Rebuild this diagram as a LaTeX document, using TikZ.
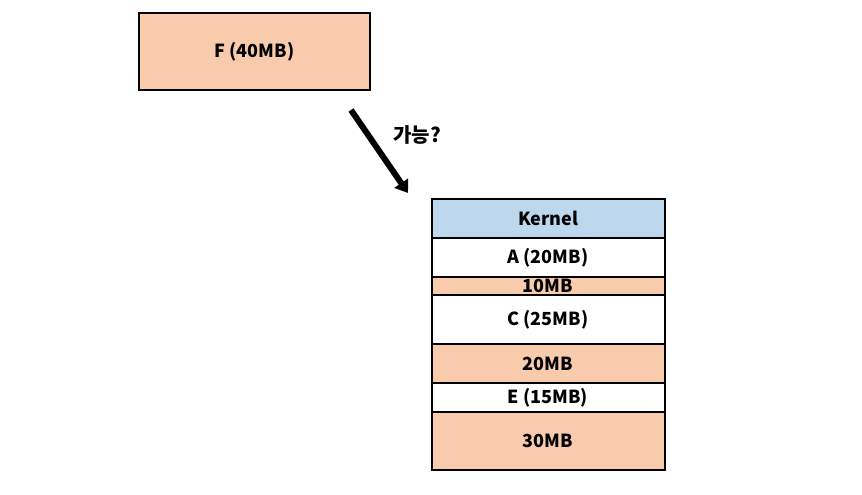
\documentclass[tikz,border=0pt]{standalone}
\usepackage{fontspec}
\setmainfont{Noto Sans CJK KR}
\usepackage{xcolor}
\usepackage{tikz}
\usetikzlibrary{positioning,arrows.meta}

\definecolor{hole}{HTML}{F8CBAD}
\definecolor{kern}{HTML}{BDD7EE}

\begin{document}
\begin{tikzpicture}[x=0.75pt, y=-0.75pt, >=Triangle, thick,
  blk/.style={draw, line width=1.5pt, minimum width=233*0.75pt, inner sep=0pt, outer sep=0pt, font=\bfseries\fontsize{13.5}{15}\selectfont}]

\useasboundingbox (0,0) rectangle (862,495);

% 
\node[blk, fill=hole, minimum width=231*0.75pt, minimum height=77*0.75pt] (f) at (254.5, 51.5) {F (40MB)};

% 
\node[blk, fill=kern, minimum height=39*0.75pt] (kernel) at (548, 218.5) {Kernel};
\node[blk, fill=white, minimum height=39*0.75pt, below=0pt of kernel] (a) {A (20MB)};
\node[blk, fill=hole, minimum height=18*0.75pt, below=0pt of a] (h1) {10MB};
\node[blk, fill=white, minimum height=49*0.75pt, below=0pt of h1] (c) {C (25MB)};
\node[blk, fill=hole, minimum height=39*0.75pt, below=0pt of c] (h2) {20MB};
\node[blk, fill=white, minimum height=29*0.75pt, below=0pt of h2] (e) {E (15MB)};
\node[blk, fill=hole, minimum height=58*0.75pt, below=0pt of e] (h3) {30MB};

% 
\coordinate (s) at (351, 110);
\coordinate (t) at (408, 193);
\draw[-{Triangle[length=9pt, width=12pt]}, line width=4.5pt] (s) -- (t);
\node[font=\bfseries\fontsize{15}{17}\selectfont] (q) at (417, 135) {가능?};

\end{tikzpicture}
\end{document}
